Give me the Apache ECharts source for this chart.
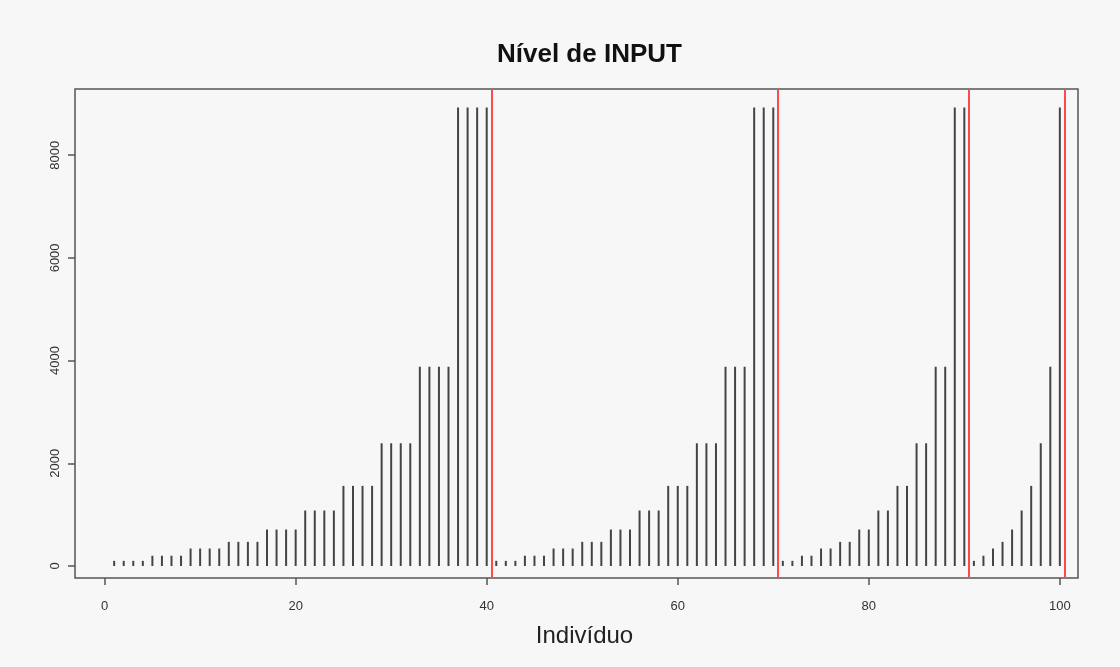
<!DOCTYPE html>
<html>
<head>
<meta charset="utf-8">
<script src="https://cdn.jsdelivr.net/npm/echarts@6/dist/echarts.min.js"></script>
<style>
html,body{margin:0;padding:0;background:#f7f7f7;}
#chart{width:1120px;height:667px;}
</style>
</head>
<body>
<div id="chart"></div>
<script>
// Group 1: individuals 1-40
const group1Values = [100,100,100,100, 200,200,200,200, 340,340,340,340, 470,470,470,470,
  710,710,710,710, 1080,1080,1080,1080, 1560,1560,1560,1560, 2390,2390,2390,2390,
  3880,3880,3880,3880, 8930,8930,8930,8930];
// Group 2: individuals 41-70
const group2Values = [100,100,100, 200,200,200, 340,340,340, 470,470,470, 710,710,710,
  1080,1080,1080, 1560,1560,1560, 2390,2390,2390, 3880,3880,3880, 8930,8930,8930];
// Group 3: individuals 71-90
const group3Values = [100,100, 200,200, 340,340, 470,470, 710,710, 1080,1080,
  1560,1560, 2390,2390, 3880,3880, 8930,8930];
// Group 4: individuals 91-100
const group4Values = [100, 200, 340, 470, 710, 1080, 1560, 2390, 3880, 8930];

const separators = [40.5, 70.5, 90.5, 100.5];
const xTicks = [0, 20, 40, 60, 80, 100];
const yTicks = [0, 2000, 4000, 6000, 8000];

const allValues = group1Values.concat(group2Values, group3Values, group4Values);
const barData = allValues.map((v, i) => [i + 1, v]);

const chart = echarts.init(document.getElementById('chart'), null, {renderer: 'canvas'});
chart.setOption({
  backgroundColor: '#f7f7f7',
  animation: false,
  title: {
    text: 'Nível de INPUT',
    left: 492,
    top: 37,
    textStyle: {fontFamily: 'Liberation Sans, Arial, sans-serif', fontWeight: 'bold', fontSize: 26, color: '#111'}
  },
  grid: {
    left: 75, right: 42, top: 89, bottom: 89,
    show: true, borderColor: '#555', borderWidth: 1.5, backgroundColor: 'transparent'
  },
  xAxis: {
    type: 'value',
    min: -3.1, max: 101.9,
    name: 'Indivíduo',
    nameLocation: 'middle',
    nameGap: 46,
    nameTextStyle: {fontFamily: 'Liberation Sans, Arial, sans-serif', fontSize: 24, color: '#222', padding: [0, 0, 0, 16]},
    splitLine: {show: false},
    axisLine: {show: false, onZero: false},
    axisTick: {show: true, length: 7, customValues: xTicks, lineStyle: {color: '#555', width: 1.5}},
    axisLabel: {customValues: xTicks, margin: 22, formatter: v => String(v), fontFamily: 'Liberation Sans, Arial, sans-serif', fontSize: 13, color: '#333'}
  },
  yAxis: {
    type: 'value',
    min: -234, max: 9289,
    splitLine: {show: false},
    axisLine: {show: false, onZero: false},
    axisTick: {show: true, length: 7, customValues: yTicks, lineStyle: {color: '#555', width: 1.5}},
    axisLabel: {customValues: yTicks, rotate: 90, margin: 13, formatter: v => String(v), fontFamily: 'Liberation Sans, Arial, sans-serif', fontSize: 13, color: '#333'}
  },
  series: [{
    type: 'bar',
    data: barData,
    barWidth: 2,
    itemStyle: {color: '#444'},
    markLine: {
      silent: true,
      symbol: ['none', 'none'],
      label: {show: false},
      lineStyle: {color: '#ff4a4a', width: 2, type: 'solid'},
      data: separators.map(s => ({xAxis: s}))
    }
  }]
});
</script>
</body>
</html>
